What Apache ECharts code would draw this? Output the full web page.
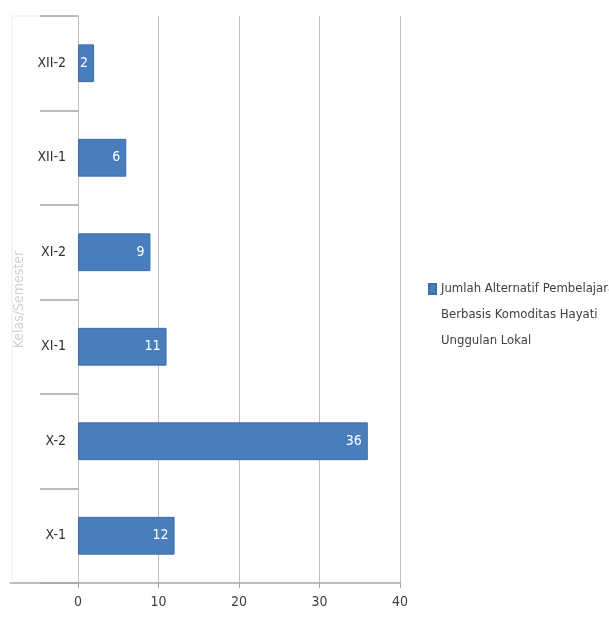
<!DOCTYPE html>
<html>
<head>
<meta charset="utf-8">
<script src="https://cdn.jsdelivr.net/npm/echarts@6/dist/echarts.min.js"></script>
<style>
html,body{margin:0;padding:0;background:#fff;}
#chart{width:609px;height:623px;}
</style>
</head>
<body>
<div id="chart"></div>
<script>
var categories = ['X-1', 'X-2', 'XI-1', 'XI-2', 'XII-1', 'XII-2'];
var values = [12, 36, 11, 9, 6, 2];
var seriesName = 'Jumlah Alternatif Pembelajaran\nBerbasis Komoditas Hayati\nUnggulan Lokal';
var axisTitle = 'Kelas/Semester';
var xTicks = [0, 10, 20, 30, 40];

var FONT = "'DejaVu Sans Condensed', 'Liberation Sans Narrow', Lato, sans-serif";
var chart = echarts.init(document.getElementById('chart'));
chart.setOption({
  animation: false,
  textStyle: { fontFamily: FONT },
  grid: { left: 78, right: 209, top: 16, bottom: 40, containLabel: false },
  legend: {
    data: [seriesName],
    left: 423, top: 219,
    orient: 'vertical',
    icon: 'rect', itemWidth: 7, itemHeight: 10, itemGap: 4,
    formatter: function (name) { return '\n\n' + name; },
    textStyle: { fontFamily: FONT, fontSize: 13, color: '#404040', lineHeight: 26 }
  },
  graphic: [
    { type: 'line', shape: { x1: 10, y1: 583, x2: 78, y2: 583 }, style: { stroke: '#a6a6a6', lineWidth: 1.5 } },
    { type: 'line', shape: { x1: 12, y1: 16, x2: 78, y2: 16 }, style: { stroke: '#ececec', lineWidth: 1 } },
    { type: 'line', shape: { x1: 12, y1: 16, x2: 12, y2: 583 }, style: { stroke: '#ececec', lineWidth: 1 } }
  ],
  xAxis: {
    type: 'value',
    min: xTicks[0], max: xTicks[xTicks.length - 1], interval: 10,
    axisLine: { show: true, lineStyle: { color: '#a6a6a6', width: 1.5 } },
    axisTick: { show: true, length: 5, lineStyle: { color: '#a6a6a6' } },
    axisLabel: { fontFamily: FONT, fontSize: 14, color: '#404040', margin: 12 },
    splitLine: { show: true, lineStyle: { color: '#bfbfbf', width: 1 } }
  },
  yAxis: {
    type: 'category',
    data: categories,
    name: axisTitle,
    nameLocation: 'middle',
    nameRotate: 90,
    nameGap: 47,
    nameTextStyle: { fontFamily: FONT, fontSize: 14, color: '#d0d0d0' },
    axisLine: { show: true, lineStyle: { color: '#bfbfbf', width: 1 } },
    axisTick: { show: true, length: 38, alignWithLabel: false, lineStyle: { color: '#a6a6a6', width: 1.5 } },
    axisLabel: { fontFamily: FONT, fontSize: 14, color: '#303030', margin: 12 }
  },
  series: [{
    name: seriesName,
    type: 'bar',
    data: values,
    barWidth: '40%',
    itemStyle: { color: '#4a7dbc', borderColor: '#3d6ea8', borderWidth: 1 },
    label: {
      show: true, position: 'insideRight', distance: 6,
      color: '#ffffff', fontFamily: FONT, fontSize: 14
    }
  }]
});
</script>
</body>
</html>
